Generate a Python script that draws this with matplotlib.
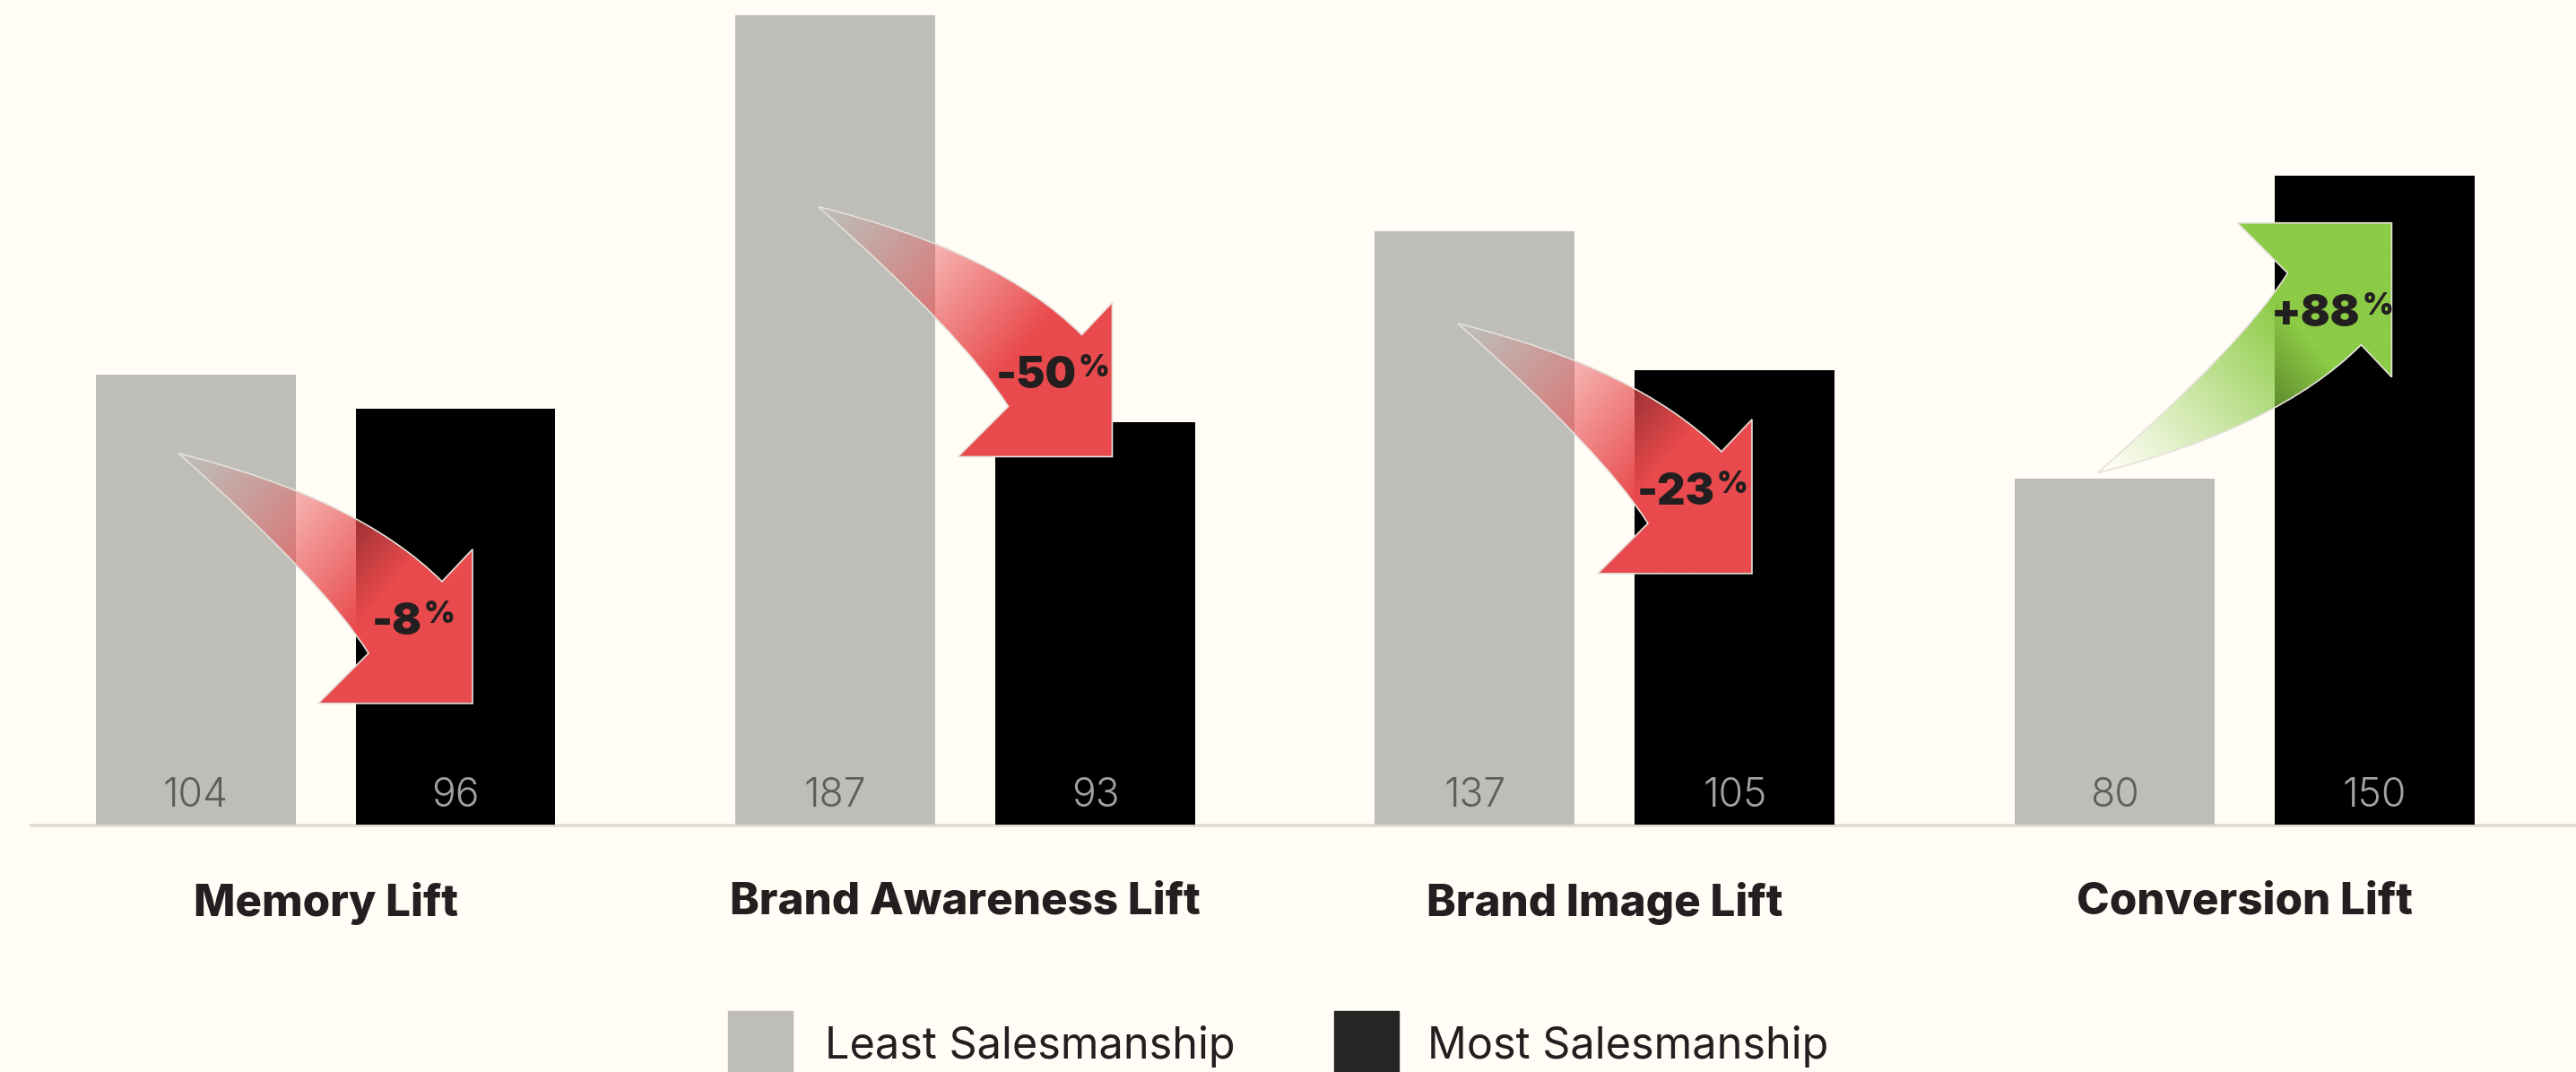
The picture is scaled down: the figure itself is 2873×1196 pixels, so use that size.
import numpy as np
import matplotlib
matplotlib.use('Agg')
import matplotlib.pyplot as plt
from matplotlib.path import Path
from matplotlib.patches import PathPatch, Rectangle
from matplotlib.transforms import offset_copy
from matplotlib.colors import to_rgb

categories = ['Memory Lift', 'Brand Awareness Lift', 'Brand Image Lift', 'Conversion Lift']
least = [104, 187, 137, 80]
most = [96, 93, 105, 150]
series_names = ['Least Salesmanship', 'Most Salesmanship']

# where the head of each change arrow sits (value units)
arrow_tips = [28, 85, 58, 139]

BG = '#fffdf6'
GRAY = '#bebdb8'
BLACK = '#000000'
INK = '#231f20'
RED = '#e94a4d'
GREEN = '#8ccb45'

plt.rcParams['font.family'] = ['Inter', 'DejaVu Sans']

W, H = 2873, 1196
fig = plt.figure(figsize=(W / 100, H / 100), dpi=100, facecolor=BG)
ax = fig.add_axes([0, 276 / H, 1, 920 / H])
ax.set_facecolor(BG)

XMIN, XMAX = -0.5088, 3.518
YMAX = 190.5
sx = (XMAX - XMIN) / W      # data units per pixel
sy = YMAX / 920

x = np.arange(len(categories))
bw = 0.3125
off = 0.2032
ax.bar(x - off, least, bw, color=GRAY, zorder=2)
ax.bar(x + off, most, bw, color=BLACK, zorder=2)
ax.axhline(-0.3, xmin=35 / W, xmax=1, color='#dedbd3', lw=2.6, zorder=1, clip_on=False)

for xi, v in zip(x - off, least):
    ax.text(xi, 4.1, str(v), ha='center', va='baseline', fontsize=32,
            color='#5f5e5a', fontweight=300, zorder=6)
for xi, v in zip(x + off, most):
    ax.text(xi, 4.1, str(v), ha='center', va='baseline', fontsize=32,
            color='#a3a29e', fontweight=300, zorder=6)

# curved arrow outline in pixels, tip at origin, y pointing down
ARROW = [(-328, -279), (-127, -229), (-34, -136), (0, -172), (0, 0),
         (-172, 0), (-116, -56), (-166, -136), (-328, -279), (0, 0)]
CODES = [Path.MOVETO, Path.CURVE3, Path.CURVE3, Path.LINETO, Path.LINETO,
         Path.LINETO, Path.LINETO, Path.CURVE3, Path.CURVE3, Path.CLOSEPOLY]


def draw_arrow(tx, ty, color, up):
    flip = 1 if up else -1
    verts = [(tx + px * sx, ty + flip * py * sy) for px, py in ARROW]
    patch = PathPatch(Path(verts, CODES), facecolor='none', edgecolor='#e4e1da',
                      lw=1.2, zorder=4)
    ax.add_patch(patch)

    # fade from the tail to the head
    u = np.linspace(-330, 0, 340)
    v = np.linspace(-280, 0, 290)
    uu, vv = np.meshgrid(u, v)
    t = ((uu + 328) * 328 + (vv + 279) * 279) / (328 ** 2 + 279 ** 2)
    alpha = np.clip((t - 0.02) / 0.62, 0, 1) ** 1.1
    img = np.zeros(uu.shape + (4,))
    img[..., :3] = to_rgb(color)
    img[..., 3] = alpha
    if up:
        img = img[::-1]
        ext = (tx - 330 * sx, tx, ty - 280 * sy, ty)
    else:
        ext = (tx - 330 * sx, tx, ty, ty + 280 * sy)
    im = ax.imshow(img, extent=ext, origin='upper', aspect='auto',
                   interpolation='bilinear', zorder=3)
    im.set_clip_path(patch)


renderer = fig.canvas.get_renderer()
for i, (a, b) in enumerate(zip(least, most)):
    change = (b - a) / a * 100
    up = change > 0
    tx = x[i] + 164 * sx
    ty = arrow_tips[i]
    draw_arrow(tx, ty, GREEN if up else RED, up)

    cx = tx - 66 * sx
    base = ty - 115 * sy if up else ty + 77 * sy
    main = ax.text(cx, base, f'{round(change):+d}' if up else f'{round(change):d}',
                   ha='left', va='baseline', fontsize=35, fontweight=900,
                   color=INK, zorder=6)
    pct = ax.text(cx, base, '%', ha='left', va='baseline', fontsize=24,
                  fontweight=900, color=INK, zorder=6)
    w1 = main.get_window_extent(renderer).width
    w2 = pct.get_window_extent(renderer).width
    total = w1 + 2 + w2
    main.set_transform(offset_copy(ax.transData, fig, x=-total / 2, y=0, units='dots'))
    pct.set_transform(offset_copy(ax.transData, fig, x=-total / 2 + w1 + 2, y=13, units='dots'))

ax.set_xlim(XMIN, XMAX)
ax.set_ylim(0, YMAX)
ax.set_xticks(x, categories)
ax.tick_params(axis='x', length=0, pad=46, labelsize=35.5, labelcolor=INK)
for lab in ax.get_xticklabels():
    lab.set_fontweight(800)
ax.set_yticks([])
for s in ax.spines.values():
    s.set_visible(False)

# legend along the bottom edge
legend_box = [812, 1488]
legend_text = [920, 1592]
for name, color, bx, lx in zip(series_names, [GRAY, '#282624'], legend_box, legend_text):
    fig.patches.append(Rectangle((bx / W, 0), 72 / W, 68 / H, transform=fig.transFigure,
                                 color=color))
    fig.text(lx / W, 15 / H, name, fontsize=35, color=INK, va='baseline')

fig.savefig('out.png', dpi=100, facecolor=fig.get_facecolor())
